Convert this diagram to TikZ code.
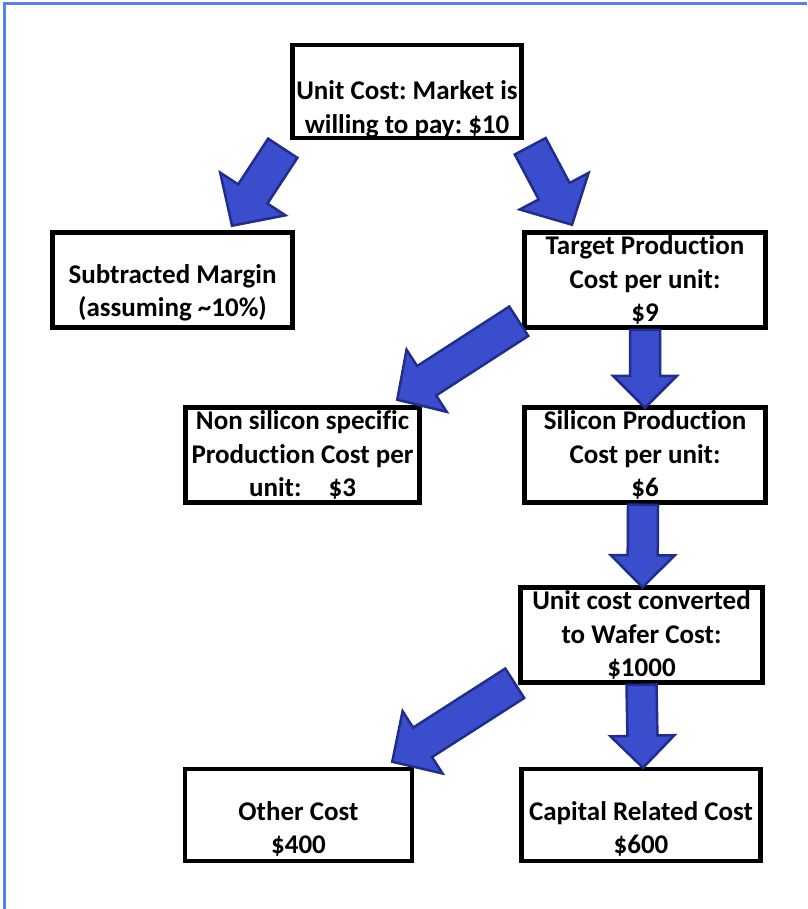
\documentclass[tikz,border=0pt]{standalone}
\usepackage{fontspec}
\setmainfont{Carlito}[Ligatures=NoCommon]
\usepackage{tikz}
\usetikzlibrary{calc}
\usepackage{xcolor}
\definecolor{arrowfill}{RGB}{58,78,205}
\definecolor{arrowline}{RGB}{32,45,140}
\definecolor{framecol}{RGB}{88,130,235}
\frenchspacing

\newcommand{\fatarrow}[5]{%
\coordinate (fatbase) at ($(#2)!#5!(#1)$);
\filldraw[fat] ($(#1)!#3!90:(#2)$) -- ($(fatbase)!#3!-90:(#1)$) -- ($(fatbase)!#4!-90:(#1)$) -- (#2) -- ($(fatbase)!#4!90:(#1)$) -- ($(fatbase)!#3!90:(#1)$) -- ($(#1)!#3!-90:(#2)$) -- cycle;
}

\begin{document}
\begin{tikzpicture}[x=1pt,y=-1pt,
  costbox/.style={draw,line width=4.5pt,inner sep=0pt},
  boxtext/.style={align=center,font=\fontsize{27}{33.5}\selectfont\bfseries},
  fat/.style={fill=arrowfill,draw=arrowline,line width=2.5pt,line join=miter}]
\useasboundingbox (0,0) rectangle (807,909);
\draw[framecol,line width=3pt] (4,909) -- (4,4) -- (807,4);

\node[costbox,minimum width=229pt,minimum height=93pt,label={[boxtext,yshift=-18pt]center:Unit Cost: Market is\\willing to pay: \$10}] (market) at (407,91.5) {};
\node[costbox,minimum width=240pt,minimum height=95pt,label={[boxtext,yshift=-13pt]center:Subtracted Margin\\(assuming \textasciitilde10\%)}] (margin) at (172.5,280) {};
\node[costbox,minimum width=241pt,minimum height=95pt,label={[boxtext]center:Target Production\\Cost per unit:\\\$9}] (target) at (645,280) {};
\node[costbox,minimum width=234pt,minimum height=95pt,label={[boxtext]center:Non silicon specific\\Production Cost per\\unit:\quad\$3}] (nonsilicon) at (302.5,455) {};
\node[costbox,minimum width=241pt,minimum height=95pt,label={[boxtext]center:Silicon Production\\Cost per unit:\\\$6}] (silicon) at (645,455) {};
\node[costbox,minimum width=242pt,minimum height=95pt,label={[boxtext]center:Unit cost converted\\to Wafer Cost:\\\$1000}] (wafer) at (641.5,635) {};
\node[costbox,minimum width=227pt,minimum height=92pt,label={[boxtext,yshift=-14pt]center:Other Cost\\\$400}] (other) at (298.5,815) {};
\node[costbox,minimum width=239pt,minimum height=92pt,label={[boxtext,yshift=-14pt]center:Capital Related Cost\\\$600}] (capital) at (641,815) {};

\coordinate (m1) at ($(market.south west)+(-7.5,8)$);
\coordinate (m2) at ($(margin.north)+(59.5,-4.5)$);
\fatarrow{m1}{m2}{17.5pt}{39pt}{38pt}
\coordinate (t1) at ($(market.south east)+(6.5,6)$);
\coordinate (t2) at ($(target.north)+(-73,-5.5)$);
\fatarrow{t1}{t2}{17.5pt}{39pt}{38pt}
\coordinate (n1) at ($(target.south west)+(-3.5,-8.5)$);
\coordinate (n2) at ($(nonsilicon.north east)+(-24.5,-5.5)$);
\fatarrow{n1}{n2}{17.5pt}{37pt}{35pt}
\coordinate (s1) at (target.south);
\coordinate (s2) at ($(silicon.north)+(0,2.5)$);
\fatarrow{s1}{s2}{15pt}{32pt}{32pt}
\coordinate (w1) at ($(silicon.south)+(-2,0)$);
\coordinate (w2) at ($(wafer.north)+(1,2)$);
\fatarrow{w1}{w2}{15pt}{32pt}{32pt}
\coordinate (o1) at ($(wafer.south west)+(-3.5,-1.5)$);
\coordinate (o2) at ($(other.north east)+(-22,-5)$);
\fatarrow{o1}{o2}{17.5pt}{37pt}{36pt}
\coordinate (c1) at (wafer.south);
\coordinate (c2) at ($(capital.north)+(2,1)$);
\fatarrow{c1}{c2}{15pt}{32pt}{32pt}
\end{tikzpicture}
\end{document}
